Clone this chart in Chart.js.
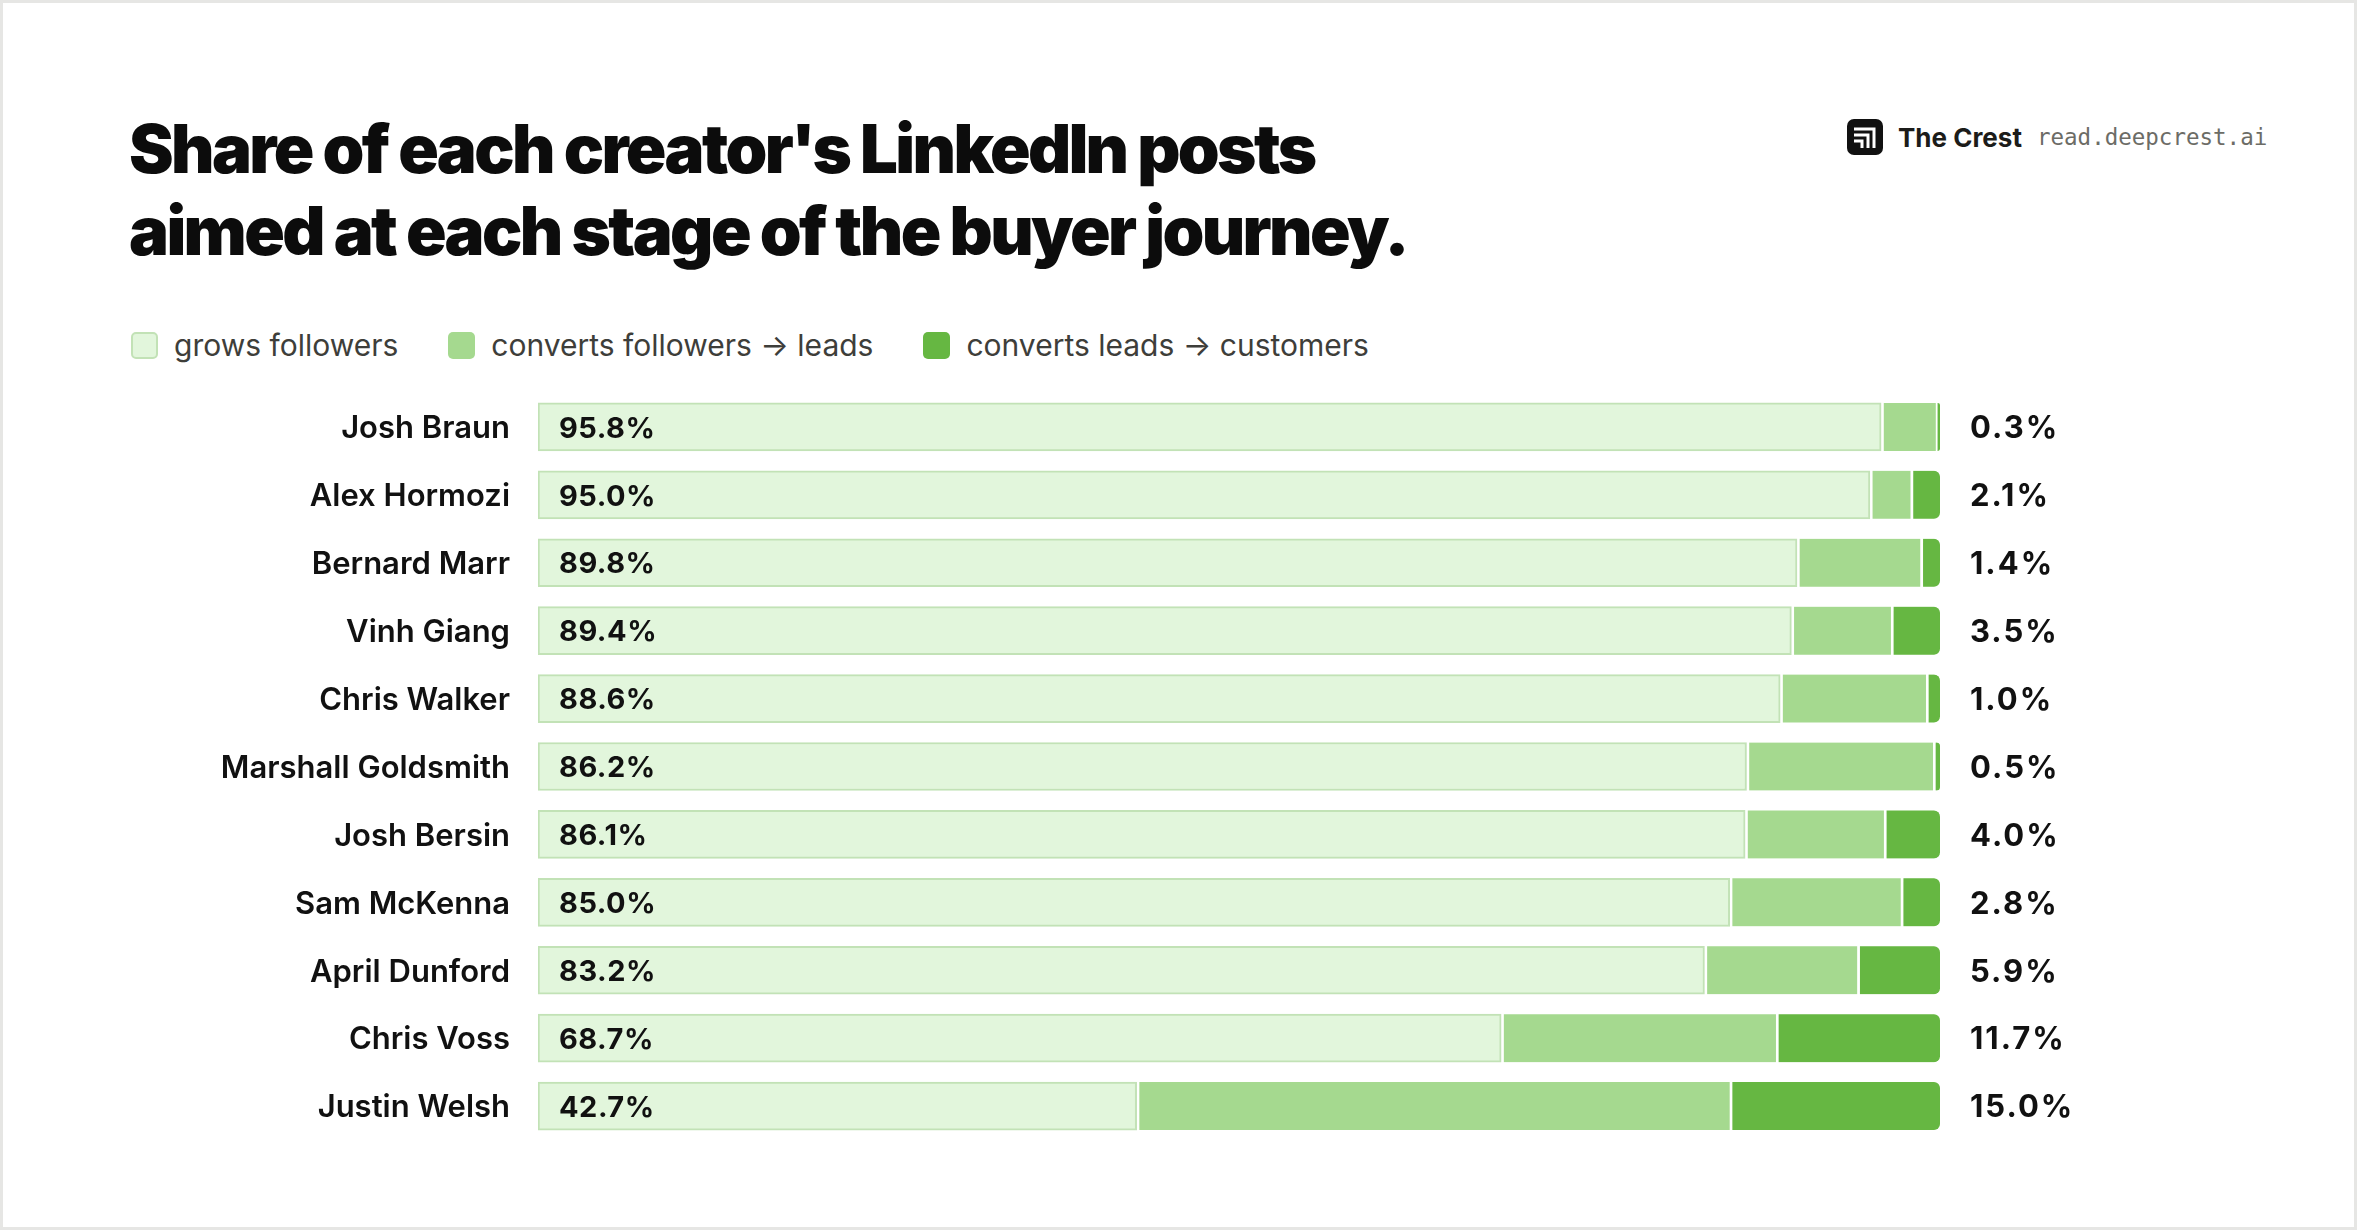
<!DOCTYPE html>
<html>
<head>
<meta charset="utf-8">
<script src="https://cdn.jsdelivr.net/npm/chart.js@4.4.1/dist/chart.umd.min.js"></script>
<style>
  html, body { margin: 0; padding: 0; background: #fff; }
  body { width: 2357px; height: 1230px; position: relative; overflow: hidden; font-family: Inter, "Noto Sans", sans-serif; }
  .frame { position: absolute; inset: 0; border: 3px solid #e6e6e4; box-sizing: border-box; pointer-events: none; z-index: 5; }
  #title { position: absolute; left: 129px; top: 108px; margin: 0; font-size: 67px; line-height: 82px; font-weight: 900; letter-spacing: -2.6px; color: #0c0c0c; }
  .brand { position: absolute; left: 1847px; top: 118px; display: flex; align-items: center; height: 38px; }
  .brand .name { font-weight: 700; font-size: 26px; color: #1c1c1a; margin-left: 15px; }
  .brand .url { font-family: "DejaVu Sans Mono", "Liberation Mono", monospace; font-size: 22.5px; color: #6c6c66; margin-left: 15px; }
  .legend { position: absolute; left: 131px; top: 327px; display: flex; align-items: center; font-size: 30px; color: #3e3e3a; }
  .legend .sw { width: 27px; height: 27px; border-radius: 5px; box-sizing: border-box; margin-right: 16px; }
  .legend .item { display: flex; align-items: center; margin-right: 50px; }
  #chart { position: absolute; left: 0; top: 0; }
</style>
</head>
<body>
<div class="frame"></div>
<h1 id="title">Share of each creator's LinkedIn posts<br>aimed at each stage of the buyer journey.</h1>
<div class="brand">
  <svg width="36" height="36" viewBox="0 0 36 36">
    <rect x="0" y="0" width="36" height="36" rx="7" fill="#111"/>
    <path d="M7 10 H27 V29 M7 16 H21 V29 M7 22 H15 V29" fill="none" stroke="#fff" stroke-width="3"/>
  </svg>
  <span class="name">The Crest</span>
  <span class="url">read.deepcrest.ai</span>
</div>
<div class="legend" id="legend"></div>
<canvas id="chart" width="2357" height="1230"></canvas>
<script>
const creators = ['Josh Braun', 'Alex Hormozi', 'Bernard Marr', 'Vinh Giang', 'Chris Walker', 'Marshall Goldsmith', 'Josh Bersin', 'Sam McKenna', 'April Dunford', 'Chris Voss', 'Justin Welsh'];
const growsFollowers = [95.8, 95.0, 89.8, 89.4, 88.6, 86.2, 86.1, 85.0, 83.2, 68.7, 42.7];
const followersToLeads = [3.9, 2.9, 8.8, 7.1, 10.4, 13.3, 9.9, 12.2, 10.9, 19.6, 42.3];
const leadsToCustomers = [0.3, 2.1, 1.4, 3.5, 1.0, 0.5, 4.0, 2.8, 5.9, 11.7, 15.0];
const stageNames = ['grows followers', 'converts followers → leads', 'converts leads → customers'];

const fills = ['#e2f6dc', '#a5d98f', '#66b742'];
const edges = ['#c2e2b6', '#ffffff', '#ffffff'];

// legend in html
const legend = document.getElementById('legend');
stageNames.forEach((name, i) => {
  const item = document.createElement('div');
  item.className = 'item';
  const sw = document.createElement('div');
  sw.className = 'sw';
  sw.style.background = fills[i];
  if (i === 0) sw.style.border = '2px solid #c2e2b6';
  item.appendChild(sw);
  item.appendChild(document.createTextNode(name));
  legend.appendChild(item);
});

const pct = v => v.toFixed(1) + '%';

// creator names, first-stage share inside the bar, last-stage share at the right
const rowLabels = {
  id: 'rowLabels',
  afterDatasetsDraw(chart) {
    const ctx = chart.ctx;
    const x = chart.scales.x;
    const y = chart.scales.y;
    ctx.save();
    ctx.textBaseline = 'middle';
    ctx.fillStyle = '#111';
    chart.data.labels.forEach((name, i) => {
      const cy = y.getPixelForValue(i) + 2;
      ctx.font = '600 31px Inter';
      ctx.letterSpacing = '0px';
      ctx.textAlign = 'right';
      ctx.fillText(name, x.getPixelForValue(0) - 28, cy);
      ctx.font = '700 29px Inter';
      ctx.letterSpacing = '0.5px';
      ctx.textAlign = 'left';
      ctx.fillText(pct(growsFollowers[i]), x.getPixelForValue(0) + 21, cy);
      ctx.font = '700 31px Inter';
      ctx.letterSpacing = '2px';
      ctx.fillText(pct(leadsToCustomers[i]), x.getPixelForValue(100) + 30, cy);
    });
    ctx.restore();
  }
};

const datasets = [growsFollowers, followersToLeads, leadsToCustomers].map((vals, i) => ({
  label: stageNames[i],
  data: vals,
  backgroundColor: fills[i],
  borderColor: edges[i],
  borderWidth: i === 0 ? 2 : { left: 3, right: 0, top: 0, bottom: 0 },
  borderSkipped: false,
  borderRadius: i === 2 ? { topLeft: 0, bottomLeft: 0, topRight: 6, bottomRight: 6 } : 0,
  barThickness: 48
}));

new Chart(document.getElementById('chart'), {
  type: 'bar',
  data: { labels: creators, datasets: datasets },
  options: {
    indexAxis: 'y',
    responsive: false,
    animation: false,
    layout: { padding: { top: 393, bottom: 90, left: 0, right: 417 } },
    plugins: { legend: { display: false }, tooltip: { enabled: false } },
    scales: {
      x: {
        stacked: true,
        min: 0,
        max: 100,
        display: false
      },
      y: {
        stacked: true,
        grid: { display: false },
        border: { display: false },
        ticks: { display: false },
        afterFit(scale) { scale.width = 538; }
      }
    }
  },
  plugins: [rowLabels]
});
</script>
</body>
</html>
